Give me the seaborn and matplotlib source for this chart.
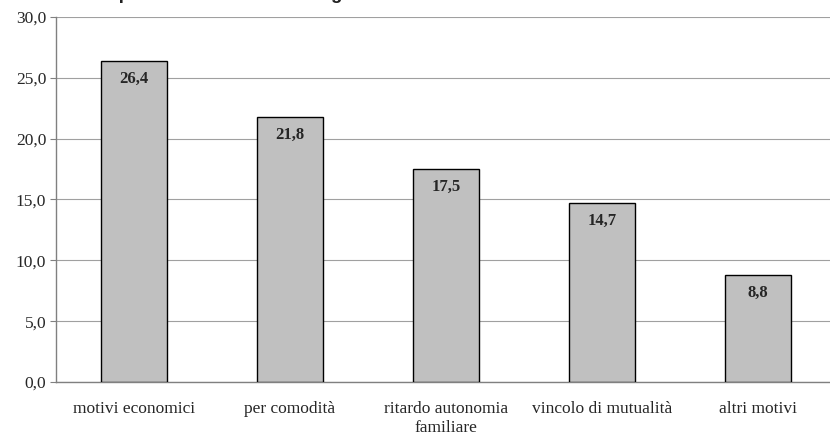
import matplotlib
matplotlib.use("Agg")
import matplotlib.pyplot as plt
import seaborn as sns
import numpy as np
import pandas as pd

# data
categories = ["motivi economici", "per comodità", "ritardo autonomia\nfamiliare",
              "vincolo di mutualità", "altri motivi"]
values = [26.4, 21.8, 17.5, 14.7, 8.8]
y_ticks = [0, 5, 10, 15, 20, 25, 30]

df = pd.DataFrame({"motivo": categories, "valore": values})

sns.set_style("white")
plt.rcParams["font.family"] = ["Liberation Serif", "DejaVu Serif"]

fig = plt.figure(figsize=(8.3, 4.36), dpi=100)
ax = fig.add_axes([56 / 830, 1 - 382 / 436, 780 / 830, 365 / 436])

sns.barplot(data=df, x="motivo", y="valore", color="#c0c0c0", edgecolor="black",
            linewidth=1.0, width=0.42, saturation=1, ax=ax, zorder=3)

ax.set_ylim(0, 30)
ax.set_xlim(-0.5, len(categories) - 0.5)
ax.set_yticks(y_ticks)
ax.set_yticklabels([f"{v:.1f}".replace(".", ",") for v in y_ticks], fontsize=12.5)
ax.yaxis.grid(True, color="#a0a0a0", linewidth=0.8, zorder=0)
ax.set_xlabel("")
ax.set_ylabel("")

# category labels, ticks between groups
ax.tick_params(axis="x", which="major", length=0, labelsize=12.5, pad=14)
ax.set_xticks(np.arange(len(categories) + 1) - 0.5, minor=True)
ax.tick_params(axis="x", which="minor", length=5, color="#808080", width=0.8)
ax.tick_params(axis="y", length=4, color="#808080", width=0.8, left=True, pad=3)

for side in ["top", "right"]:
    ax.spines[side].set_visible(False)
for side in ["left", "bottom"]:
    ax.spines[side].set_color("#808080")
    ax.spines[side].set_linewidth(1.0)

# value labels inside the bars
for i, v in enumerate(values):
    ax.annotate(f"{v:.1f}".replace(".", ","), (i, v), xytext=(0, -13),
                textcoords="offset points", ha="center", va="center",
                fontsize=12, fontweight="bold", zorder=4)

# title, cut off at the top of the picture as in the reference
fig.text(103 / 830, 1 + 1.5 / 436, "Il perché della vita in famiglia",
         fontsize=13.5, fontweight="bold", family=["Liberation Sans", "DejaVu Sans"],
         color="#222222", va="baseline", ha="left")

fig.savefig("out.png", dpi=100)
